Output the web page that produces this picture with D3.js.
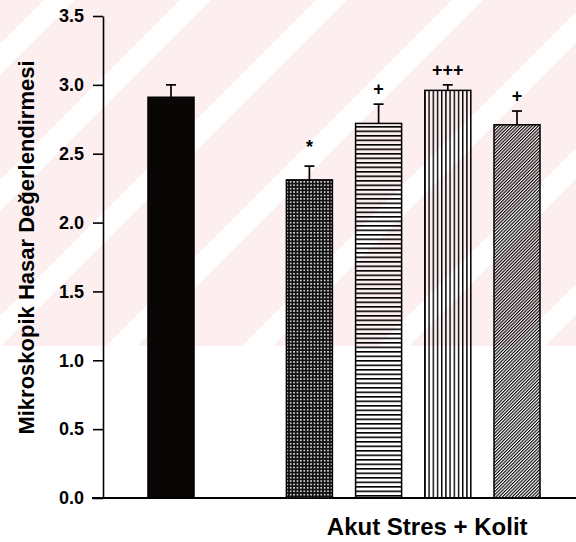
<!DOCTYPE html>
<html>
<head>
<meta charset="utf-8">
<script src="https://cdn.jsdelivr.net/npm/d3@7"></script>
<style>
  html, body { margin: 0; padding: 0; background: #ffffff; }
  svg { display: block; }
  text { font-family: Arial, "Liberation Sans", sans-serif; fill: #000; }
</style>
</head>
<body>
<div id="chart"></div>
<script>
// ---- data ----
const categories = ["Kolit", "AS+K 1", "AS+K 2", "AS+K 3", "AS+K 4"];
const values = [2.91, 2.31, 2.72, 2.96, 2.71];
const sems = [0.09, 0.10, 0.14, 0.04, 0.10];
const marks = ["", "*", "+", "+++", "+"];
const yTicks = [0.0, 0.5, 1.0, 1.5, 2.0, 2.5, 3.0, 3.5];
const yLabel = "Mikroskopik Hasar Değerlendirmesi";
const groupLabel = "Akut Stres + Kolit";
const fills = ["solid", "dots", "hlines", "vlines", "diag"];

// ---- layout ----
const W = 576, H = 542;
const svg = d3.select("#chart").append("svg").attr("width", W).attr("height", H);

// faint watermark background (diagonal pink bands)
const wmBottom = 346;
svg.append("rect").attr("x", 0).attr("y", 0).attr("width", W).attr("height", wmBottom)
  .attr("fill", "#fdeef0");
svg.append("g").selectAll("polygon").data(d3.range(-1, 6)).join("polygon")
  .attr("fill", "#ffffff")
  .attr("points", k => {
    const c = 180 + 136 * k, w = 31;
    return [[c, 0], [c + w, 0], [c + w - wmBottom, wmBottom], [c - wmBottom, wmBottom]].join(" ");
  });

// patterns
const defs = svg.append("defs");
const pDots = defs.append("pattern").attr("id", "dots").attr("patternUnits", "userSpaceOnUse")
  .attr("width", 3.4).attr("height", 3.4);
pDots.append("rect").attr("width", 3.4).attr("height", 3.4).attr("fill", "#111");
pDots.append("rect").attr("x", 0.9).attr("y", 0.9).attr("width", 1.5).attr("height", 1.5).attr("fill", "#fff");

const pH = defs.append("pattern").attr("id", "hlines").attr("patternUnits", "userSpaceOnUse")
  .attr("width", 10).attr("height", 4.5);
pH.append("rect").attr("x", 0).attr("y", 0).attr("width", 10).attr("height", 1.6).attr("fill", "#000");

const pV = defs.append("pattern").attr("id", "vlines").attr("patternUnits", "userSpaceOnUse")
  .attr("width", 4.2).attr("height", 10);
pV.append("rect").attr("x", 0).attr("y", 0).attr("width", 1.4).attr("height", 10).attr("fill", "#000");

const pD = defs.append("pattern").attr("id", "diag").attr("patternUnits", "userSpaceOnUse")
  .attr("width", 2.3).attr("height", 10).attr("patternTransform", "rotate(45)");
pD.append("rect").attr("x", 0).attr("y", 0).attr("width", 1.1).attr("height", 10).attr("fill", "#000");

// scales
const slots = [categories[0], "_gap", ...categories.slice(1)];
const x = d3.scaleBand().domain(slots).range([103, 585]).paddingInner(0.335).paddingOuter(0.65);
const y = d3.scaleLinear().domain([0, 3.5]).range([498, 16]);

// y axis
const yAxis = d3.axisLeft(y).tickValues(yTicks).tickFormat(d3.format(".1f"))
  .tickSize(10).tickSizeOuter(0).tickPadding(9);
const gy = svg.append("g").attr("transform", "translate(103,0)").call(yAxis);
gy.select(".domain").attr("stroke", "#000").attr("stroke-width", 1.6);
gy.selectAll(".tick line").attr("stroke", "#000").attr("stroke-width", 1.6);
gy.selectAll(".tick text").attr("font-size", 18).attr("font-weight", "bold")
  .attr("font-family", 'Arial, "Liberation Sans", sans-serif').attr("fill", "#000");

// x axis baseline
svg.append("line").attr("x1", 92).attr("x2", W).attr("y1", y(0)).attr("y2", y(0))
  .attr("stroke", "#000").attr("stroke-width", 1.8);

// bars
const data = categories.map((c, i) => ({ c, v: values[i], e: sems[i], m: marks[i], f: fills[i] }));
const bars = svg.append("g");
bars.selectAll("rect").data(data).join("rect")
  .attr("x", d => x(d.c))
  .attr("y", d => y(d.v))
  .attr("width", x.bandwidth())
  .attr("height", d => y(0) - y(d.v))
  .attr("fill", d => d.f === "solid" ? "#0b0606" : `url(#${d.f})`)
  .attr("stroke", "#000").attr("stroke-width", 1.5);

// error bars
const eb = svg.append("g").attr("stroke", "#000").attr("stroke-width", 1.7);
eb.selectAll("line.v").data(data).join("line").attr("class", "v")
  .attr("x1", d => x(d.c) + x.bandwidth() / 2).attr("x2", d => x(d.c) + x.bandwidth() / 2)
  .attr("y1", d => y(d.v)).attr("y2", d => y(d.v + d.e));
eb.selectAll("line.h").data(data).join("line").attr("class", "h")
  .attr("x1", d => x(d.c) + x.bandwidth() / 2 - 5).attr("x2", d => x(d.c) + x.bandwidth() / 2 + 5)
  .attr("y1", d => y(d.v + d.e)).attr("y2", d => y(d.v + d.e));

// significance marks
svg.append("g").selectAll("text").data(data).join("text")
  .attr("x", d => x(d.c) + x.bandwidth() / 2)
  .attr("y", d => y(d.v + d.e) - (d.m === "*" ? 13 : 9))
  .attr("text-anchor", "middle").attr("font-size", 18).attr("font-weight", "bold")
  .text(d => d.m);

// group label
const gx0 = x(categories[1]), gx1 = x(categories[categories.length - 1]) + x.bandwidth();
svg.append("text").attr("x", (gx0 + gx1) / 2 + 14).attr("y", 535)
  .attr("text-anchor", "middle").attr("font-size", 24).attr("font-weight", "bold")
  .text(groupLabel);

// y label
svg.append("text").attr("transform", `translate(34,${(58 + 437) / 2}) rotate(-90)`)
  .attr("text-anchor", "middle").attr("font-size", 22).attr("font-weight", "bold")
  .text(yLabel);
</script>
</body>
</html>
